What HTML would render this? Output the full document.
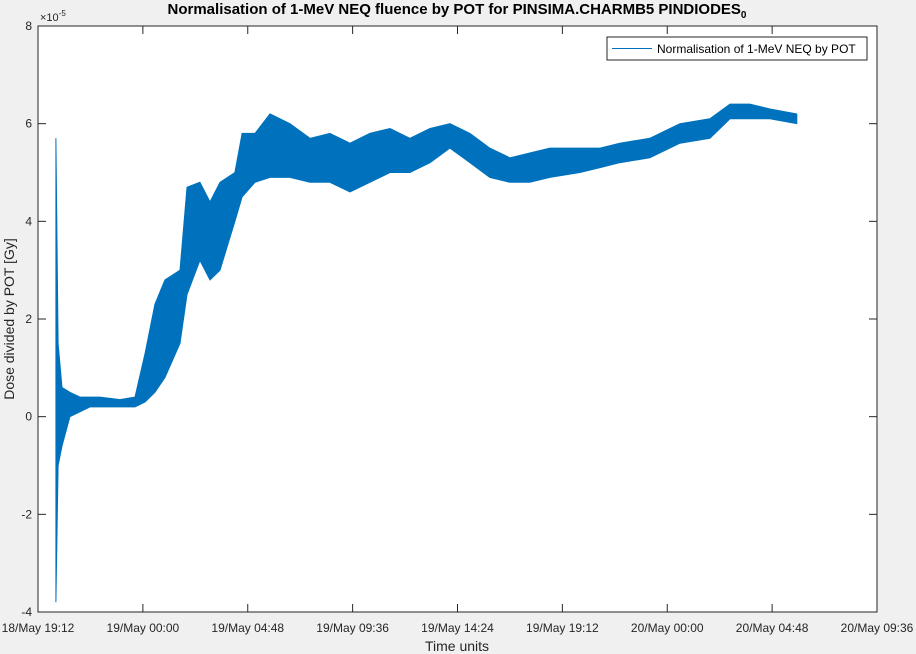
<!DOCTYPE html>
<html><head><meta charset="utf-8"><style>
body{margin:0;background:#f0f0f0;}
svg{display:block;font-family:"Liberation Sans",Arial,sans-serif;}
</style></head><body>
<svg id="chart" width="916" height="654" xmlns="http://www.w3.org/2000/svg">
<rect x="0" y="0" width="916" height="654" fill="#f0f0f0"/>
<rect x="38" y="26" width="839" height="586" fill="#fff"/>
<g id="series"></g>
<rect x="38" y="26" width="839" height="586" fill="none" stroke="#262626" stroke-width="1"/>
<g id="ticks"></g>
<text x="457" y="14" text-anchor="middle" font-size="15" font-weight="bold" fill="#000">Normalisation of 1-MeV NEQ fluence by POT for PINSIMA.CHARMB5 PINDIODES<tspan font-size="10" dy="4">0</tspan></text>
<text x="40" y="21" font-size="11" fill="#262626">×10<tspan font-size="8" dy="-5">-5</tspan></text>
<text x="457" y="651" text-anchor="middle" font-size="14" fill="#262626">Time units</text>
<text transform="translate(14,319) rotate(-90)" text-anchor="middle" font-size="14" fill="#262626">Dose divided by POT [Gy]</text>
<g>
<rect x="607" y="37" width="260" height="23" fill="#fff" stroke="#262626" stroke-width="1"/>
<line x1="612" y1="48.5" x2="652" y2="48.5" stroke="#0072BD" stroke-width="1"/>
<text x="657" y="53" font-size="12" fill="#000">Normalisation of 1-MeV NEQ by POT</text>
</g>
</svg>
<script>
const hours=[0.82,0.92,1.10,1.46,1.92,2.38,2.84,3.75,4.44,4.90,5.35,5.81,6.50,6.82,7.41,7.87,8.33,9.01,9.34,9.93,10.62,11.53,12.45,13.36,14.28,15.19,16.11,17.02,17.94,18.85,19.77,20.68,21.60,22.51,23.43,24.80,25.72,26.63,28.00,29.38,30.75,31.67,32.58,33.50,34.73];
const mid=[1,0.5,0,0.3,0.2,0.3,0.3,0.3,0.3,0.6,1.2,1.8,2.3,3.5,4.0,3.8,4.0,4.5,5.3,5.3,5.5,5.5,5.3,5.4,5.2,5.4,5.5,5.4,5.6,5.8,5.5,5.2,5.0,5.1,5.2,5.3,5.3,5.4,5.5,5.8,5.9,6.3,6.25,6.2,6.1];
const lo=[-3.8,-1,-0.6,0,0.1,0.2,0.2,0.2,0.2,0.3,0.5,0.8,1.5,2.5,3.2,2.8,3.0,4.0,4.5,4.8,4.9,4.9,4.8,4.8,4.6,4.8,5.0,5.0,5.2,5.5,5.2,4.9,4.8,4.8,4.9,5.0,5.1,5.2,5.3,5.6,5.7,6.1,6.1,6.1,6.0];
const hi=[5.7,1.5,0.6,0.5,0.4,0.4,0.4,0.35,0.4,1.3,2.3,2.8,3.0,4.7,4.8,4.4,4.8,5.0,5.8,5.8,6.2,6.0,5.7,5.8,5.6,5.8,5.9,5.7,5.9,6.0,5.8,5.5,5.3,5.4,5.5,5.5,5.5,5.6,5.7,6.0,6.1,6.4,6.4,6.3,6.2];
const xTickLabels=["18/May 19:12","19/May 00:00","19/May 04:48","19/May 09:36","19/May 14:24","19/May 19:12","20/May 00:00","20/May 04:48","20/May 09:36"];
const yTicks=[-4,-2,0,2,4,6,8];
const L=38,R=877,T=26,B=612,XMAX=38.4,YMIN=-4,YMAX=8;
const xs=h=>L+h/XMAX*(R-L), ys=v=>B-(v-YMIN)/(YMAX-YMIN)*(B-T);
const NS="http://www.w3.org/2000/svg";
function mk(tag,attrs,parent){const e=document.createElementNS(NS,tag);for(const k in attrs)e.setAttribute(k,attrs[k]);parent.appendChild(e);return e;}
const ser=document.getElementById('series'), tk=document.getElementById('ticks');
let band=hours.map((h,i)=>xs(h).toFixed(1)+","+ys(hi[i]).toFixed(1)).join(" ")+" "+hours.map((h,i)=>xs(h).toFixed(1)+","+ys(lo[i]).toFixed(1)).reverse().join(" ");
const bp=mk('polygon',{points:band,fill:'#0072BD',stroke:'#0072BD','stroke-width':'1'},ser);


const ln=mk('polyline',{points:hours.map((h,i)=>xs(h).toFixed(1)+","+ys(mid[i]).toFixed(1)).join(" "),fill:'none',stroke:'#0072BD','stroke-width':'1'},ser);


xTickLabels.forEach((lab,i)=>{const x=xs(i*4.8);
 const a=mk('line',{x1:x,y1:B,x2:x,y2:B-8,stroke:'#262626'},tk);
 
 
 const b=mk('line',{x1:x,y1:T,x2:x,y2:T+8,stroke:'#262626'},tk);
 
 
 const t=mk('text',{x:x,y:B+20,'text-anchor':'middle','font-size':'12',fill:'#262626'},tk);t.textContent=lab;
 
 
});
yTicks.forEach(v=>{const y=ys(v);
 const a=mk('line',{x1:L,y1:y,x2:L+8,y2:y,stroke:'#262626'},tk);
 
 
 const b=mk('line',{x1:R,y1:y,x2:R-8,y2:y,stroke:'#262626'},tk);
 
 
 const t=mk('text',{x:L-6,y:y+4,'text-anchor':'end','font-size':'12',fill:'#262626'},tk);t.textContent=v;
 
 
});
</script>
</body></html>
